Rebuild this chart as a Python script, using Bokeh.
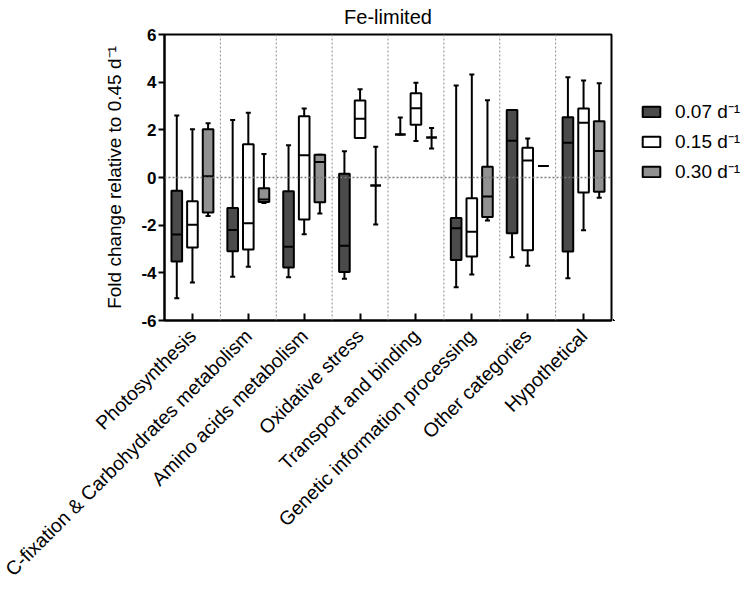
import numpy as np
from bokeh.plotting import figure
from bokeh.layouts import row
from bokeh.models import ColumnDataSource, FixedTicker, Span, Legend, LegendItem, Range1d
from bokeh.embed import file_html
from bokeh.resources import INLINE

categories = ["Photosynthesis", "C-fixation & Carbohydrates metabolism", "Amino acids metabolism",
              "Oxidative stress", "Transport and binding", "Genetic information processing",
              "Other categories", "Hypothetical"]
series = ["0.07 d\u207b\u00b9", "0.15 d\u207b\u00b9", "0.30 d\u207b\u00b9"]
colors = ["#4b4b4b", "#ffffff", "#919191"]
y_ticks = [-6, -4, -2, 0, 2, 4, 6]

# 0.07 d-1
low_07 = [-5.07, -4.16, -4.19, -4.25, 1.80, -4.60, -3.35, -4.23]
q1_07 = [-3.52, -3.09, -3.78, -3.96, 1.80, -3.46, -2.34, -3.11]
med_07 = [-2.39, -2.20, -2.91, -2.86, 1.80, -2.13, 1.54, 1.46]
q3_07 = [-0.56, -1.28, -0.58, 0.16, 1.80, -1.70, 2.83, 2.53]
high_07 = [2.60, 2.41, 1.35, 1.10, 2.52, 3.86, 2.83, 4.21]

# 0.15 d-1
low_15 = [-4.41, -3.74, -2.38, 1.66, 1.53, -4.07, -3.70, -2.21]
q1_15 = [-2.94, -3.02, -1.76, 1.66, 2.21, -3.31, -3.05, -0.63]
med_15 = [-1.98, -1.92, 0.93, 2.46, 2.91, -2.28, 0.71, 2.30]
q3_15 = [-1.00, 1.40, 2.57, 3.23, 3.53, -0.87, 1.25, 2.90]
high_15 = [2.02, 2.72, 2.89, 3.70, 3.98, 4.32, 1.64, 4.07]

# 0.30 d-1
low_30 = [-1.62, -1.07, -1.51, -1.97, 1.22, -1.80, 0.48, -0.85]
q1_30 = [-1.47, -1.03, -1.04, -0.34, 1.68, -1.66, 0.48, -0.60]
med_30 = [0.05, -0.92, 0.65, -0.34, 1.68, -0.80, 0.48, 1.11]
q3_30 = [2.02, -0.45, 0.95, -0.34, 1.68, 0.45, 0.48, 2.36]
high_30 = [2.28, 0.99, 0.95, 1.29, 2.08, 3.24, 0.48, 3.95]

stats = [
    (low_07, q1_07, med_07, q3_07, high_07),
    (low_15, q1_15, med_15, q3_15, high_15),
    (low_30, q1_30, med_30, q3_30, high_30),
]
offsets = [-0.28, 0.0, 0.28]
box_w = 0.19
cap_w = 0.045

FONT = "Liberation Sans"
TOP, BOTTOM = 34, 265

p = figure(width=613, height=590, output_backend="svg", toolbar_location=None,
           x_range=Range1d(0.5, 8.5), y_range=Range1d(-6, 6),
           min_border_left=164, min_border_right=2, min_border_top=TOP, min_border_bottom=BOTTOM)
p.background_fill_color = "white"
p.border_fill_color = "white"
p.outline_line_color = "black"
p.outline_line_width = 2
p.xgrid.visible = False
p.ygrid.visible = False

p.title.text = "Fe-limited"
p.title.align = "center"
p.title.vertical_align = "top"
p.title.text_font = FONT
p.title.text_font_size = "20px"
p.title.text_font_style = "normal"
p.title.text_color = "black"
p.title.standoff = 10

# separators between categories
for i in range(len(categories) - 1):
    p.add_layout(Span(location=i + 1.5, dimension="height", line_color="#8a8a8a",
                      line_width=1, line_dash="2 2"))
p.add_layout(Span(location=0, dimension="width", line_color="#7a7a7a",
                  line_width=1.6, line_dash="2 2"))

sources = []
xs_base = np.arange(1, len(categories) + 1)
for k, (lo, q1, md, q3, hi) in enumerate(stats):
    x = xs_base + offsets[k]
    src = ColumnDataSource(dict(x=x, lo=lo, q1=q1, md=md, q3=q3, hi=hi,
                                xl=x - cap_w, xr=x + cap_w,
                                bl=x - box_w / 2, br=x + box_w / 2))
    sources.append(src)
    p.segment(x0="x", y0="q3", x1="x", y1="hi", source=src, line_color="black", line_width=2)
    p.segment(x0="x", y0="q1", x1="x", y1="lo", source=src, line_color="black", line_width=2)
    p.segment(x0="xl", y0="hi", x1="xr", y1="hi", source=src, line_color="black", line_width=2)
    p.segment(x0="xl", y0="lo", x1="xr", y1="lo", source=src, line_color="black", line_width=2)
    p.vbar(x="x", width=box_w, bottom="q1", top="q3", source=src,
           fill_color=colors[k], line_color="black", line_width=2)
    p.segment(x0="bl", y0="md", x1="br", y1="md", source=src, line_color="black", line_width=2)

# axes
p.xaxis.ticker = FixedTicker(ticks=list(xs_base))
p.xaxis.major_label_overrides = {int(i + 1): c for i, c in enumerate(categories)}
p.xaxis.major_label_orientation = np.pi / 4
p.xaxis.major_tick_in = 7
p.xaxis.major_tick_out = 0
p.xaxis.minor_tick_line_color = None
p.xaxis.major_label_text_font = FONT
p.xaxis.major_label_text_font_size = "19.5px"
p.xaxis.major_label_text_color = "black"
p.xaxis.major_label_standoff = 12

p.yaxis.ticker = FixedTicker(ticks=y_ticks)
p.yaxis.major_label_overrides = {t: str(t) for t in y_ticks}
p.yaxis.major_tick_in = 0
p.yaxis.major_tick_out = 6
p.yaxis.minor_tick_line_color = None
p.yaxis.major_label_text_font = FONT
p.yaxis.major_label_text_font_size = "17px"
p.yaxis.major_label_text_font_style = "bold"
p.yaxis.major_label_text_color = "black"
p.yaxis.major_label_standoff = 2
p.yaxis.axis_label = "Fold change relative to 0.45 d\u207b\u00b9"
p.yaxis.axis_label_text_font = FONT
p.yaxis.axis_label_text_font_size = "19px"
p.yaxis.axis_label_text_font_style = "normal"
p.yaxis.axis_label_text_color = "black"
p.yaxis.axis_label_standoff = 13

for ax in (p.xaxis, p.yaxis):
    ax.axis_line_color = "black"
    ax.axis_line_width = 2
    ax.major_tick_line_color = "black"
    ax.major_tick_line_width = 2

# legend in a side figure (its ranges keep the proxy boxes out of view)
pl = figure(width=128, height=590, output_backend="svg", toolbar_location=None, title=None,
            x_range=Range1d(100, 101), y_range=Range1d(100, 101),
            x_axis_location=None, y_axis_location=None,
            min_border_left=0, min_border_right=0, min_border_top=TOP, min_border_bottom=BOTTOM)
pl.grid.visible = False
pl.outline_line_color = None
pl.background_fill_color = "white"
pl.border_fill_color = "white"
legend_items = []
for k in range(len(series)):
    r = pl.vbar(x="x", bottom="q1", top="q3", width=box_w, source=sources[k],
                fill_color=colors[k], line_color="black", line_width=2)
    legend_items.append(LegendItem(label=series[k], renderers=[r]))
legend = Legend(items=legend_items, location=(27, 136), glyph_width=22, glyph_height=13,
                label_text_font_size="19px", label_text_font=FONT, label_standoff=13,
                spacing=4, padding=0, margin=0, border_line_alpha=0,
                background_fill_alpha=0, label_height=20, label_text_color="black")
pl.add_layout(legend, "center")

layout = row(p, pl, spacing=0)
open("out.html", "w").write(file_html(layout, INLINE))
